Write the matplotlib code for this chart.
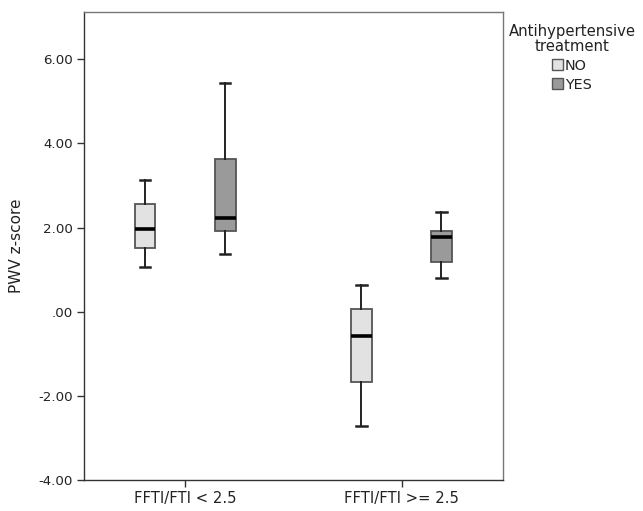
import matplotlib
matplotlib.use("Agg")
import matplotlib.pyplot as plt
from matplotlib.patches import Patch

plt.rcParams['font.family'] = ['DejaVu Sans']

# Five-number summaries of PWV z-score per group
groups = ["FFTI/FTI < 2.5", "FFTI/FTI >= 2.5"]
treatments = ["NO", "YES"]
whisker_low = {"NO": [1.07, -2.72], "YES": [1.38, 0.79]}
q1 = {"NO": [1.52, -1.67], "YES": [1.93, 1.19]}
median = {"NO": [1.96, -0.57], "YES": [2.23, 1.78]}
q3 = {"NO": [2.55, 0.06], "YES": [3.64, 1.93]}
whisker_high = {"NO": [3.14, 0.63], "YES": [5.43, 2.38]}

y_ticks = [-4, -2, 0, 2, 4, 6]
y_tick_labels = ["-4.00", "-2.00", ".00", "2.00", "4.00", "6.00"]

fill_colors = {"NO": "#e2e2e2", "YES": "#9a9a9a"}
edge_color = "#555555"
offsets = {"NO": -0.186, "YES": 0.184}
text_color = "#222222"

fig = plt.figure(figsize=(6.43, 5.11), dpi=100)
ax = fig.add_axes([0.1306, 0.0607, 0.6512, 0.9163])

for t in treatments:
    stats = []
    for i in range(len(groups)):
        stats.append({
            "whislo": whisker_low[t][i],
            "q1": q1[t][i],
            "med": median[t][i],
            "q3": q3[t][i],
            "whishi": whisker_high[t][i],
            "fliers": [],
        })
    positions = [i + offsets[t] for i in range(len(groups))]
    ax.bxp(stats, positions=positions, widths=0.097, patch_artist=True,
           showfliers=False,
           boxprops=dict(facecolor=fill_colors[t], edgecolor=edge_color, linewidth=1.3),
           medianprops=dict(color="black", linewidth=2.6),
           whiskerprops=dict(color="#222222", linewidth=1.4),
           capprops=dict(color="#222222", linewidth=1.8),
           capwidths=0.05)

ax.set_xlim(-0.468, 1.467)
ax.set_ylim(-4.0, 7.13)
ax.set_xticks(range(len(groups)))
ax.set_xticklabels(groups, fontsize=10.6, color=text_color)
ax.set_yticks(y_ticks)
ax.set_yticklabels(y_tick_labels, fontsize=9.6, color=text_color)
ax.tick_params(axis="both", length=5, width=1, color="#333333", pad=3)
ax.set_ylabel("PWV z-score", fontsize=11, color=text_color, labelpad=10)

for side in ["top", "right"]:
    ax.spines[side].set_color("#777777")
    ax.spines[side].set_linewidth(1.0)
for side in ["left", "bottom"]:
    ax.spines[side].set_color("#333333")
    ax.spines[side].set_linewidth(1.0)

handles = [Patch(facecolor=fill_colors[t], edgecolor=edge_color, linewidth=1.0, label=t)
           for t in treatments]
leg = fig.legend(handles=handles, title="Antihypertensive\ntreatment",
                 loc="upper center", bbox_to_anchor=(572 / 643, 1 - 17 / 511),
                 frameon=False, fontsize=10.4, title_fontsize=10.7,
                 handlelength=0.75, handleheight=0.75, handletextpad=0.15,
                 labelspacing=0.35, borderpad=0)
title = leg.get_title()
title.set_multialignment("center")
title.set_linespacing(0.95)
title.set_color(text_color)
for txt in leg.get_texts():
    txt.set_color(text_color)

fig.savefig("out.png", dpi=100, facecolor="white")
